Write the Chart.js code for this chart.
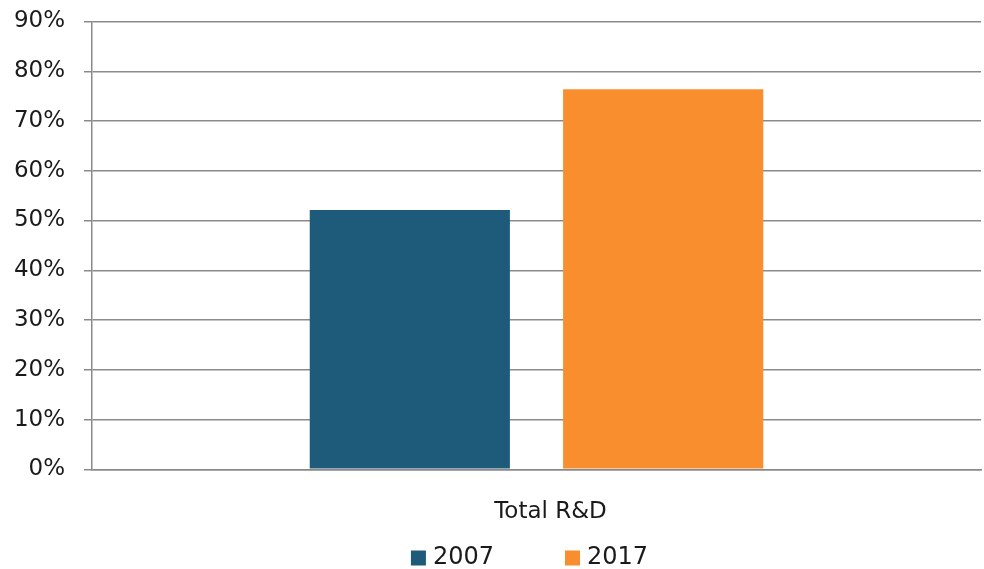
<!DOCTYPE html>
<html>
<head>
<meta charset="utf-8">
<script src="https://cdn.jsdelivr.net/npm/chart.js@4/dist/chart.umd.min.js"></script>
<style>
  html, body { margin: 0; padding: 0; background: #fff; }
  #wrap { width: 984px; height: 569px; }
</style>
</head>
<body>
<div id="wrap"><canvas id="chart"></canvas></div>
<script>
const categories = ["Total R&D"];
const seriesNames = ["2007", "2017"];
const values2007 = [52.1];
const values2017 = [76.4];
const seriesColors = ["#1e5a7a", "#f88e2d"];

const gridColor = "#8a8a8a";
const textColor = "#1a1a1a";

Chart.defaults.font.family = "'DejaVu Sans', sans-serif";
Chart.defaults.color = textColor;

// legend drawn by hand so the box/text spacing stays tight
const bottomLegend = {
  id: "bottomLegend",
  afterDraw(chart) {
    const { ctx, chartArea } = chart;
    const box = 15, gap = 7, spacing = 71;
    ctx.save();
    ctx.font = "24px 'DejaVu Sans', sans-serif";
    ctx.textBaseline = "middle";
    const items = chart.data.datasets.map(ds => ({
      text: ds.label,
      color: ds.backgroundColor,
      w: box + gap + ctx.measureText(ds.label).width
    }));
    const total = items.reduce((s, it) => s + it.w, 0) + spacing * (items.length - 1);
    let x = (chartArea.left + chartArea.right) / 2 - 7 - total / 2;
    const y = 558;
    items.forEach(it => {
      ctx.fillStyle = it.color;
      ctx.fillRect(x, y - box / 2, box, box);
      ctx.fillStyle = textColor;
      ctx.fillText(it.text, x + box + gap, y);
      x += it.w + spacing;
    });
    ctx.restore();
  }
};

new Chart(document.getElementById("chart"), {
  type: "bar",
  data: {
    labels: categories,
    datasets: [
      { label: seriesNames[0], data: values2007, backgroundColor: seriesColors[0] },
      { label: seriesNames[1], data: values2017, backgroundColor: seriesColors[1] }
    ]
  },
  options: {
    responsive: true,
    maintainAspectRatio: false,
    animation: false,
    categoryPercentage: 0.57,
    barPercentage: 0.79,
    layout: { padding: { top: 21.5, right: 3, left: 0, bottom: 44 } },
    plugins: {
      legend: { display: false },
      tooltip: { enabled: false }
    },
    scales: {
      x: {
        grid: { display: false, drawTicks: false },
        border: { display: true, color: gridColor, width: 1.5 },
        ticks: { padding: 29, labelOffset: 14, font: { size: 23 }, color: textColor },
        afterFit(scale) {
          scale.height = 55.7;
          scale.paddingLeft = 0;
          scale.paddingRight = 0;
        }
      },
      y: {
        min: 0,
        max: 90,
        grid: { color: gridColor, lineWidth: 1.5, tickLength: 8 },
        border: { display: true, color: gridColor, width: 1.5 },
        ticks: {
          stepSize: 10,
          padding: 19,
          font: { size: 23 },
          color: textColor,
          callback: v => v + "%"
        },
        afterFit(scale) {
          scale.width = 92;
          scale.paddingTop = 0;
          scale.paddingBottom = 0;
        }
      }
    }
  },
  plugins: [bottomLegend]
});
</script>
</body>
</html>
